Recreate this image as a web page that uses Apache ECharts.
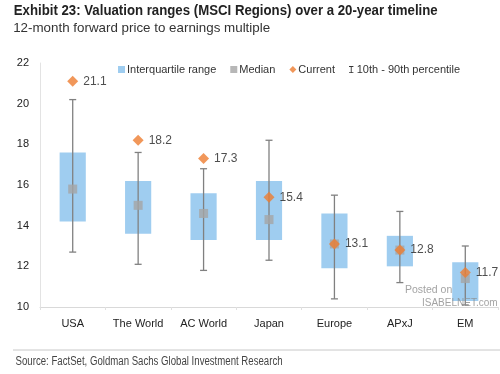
<!DOCTYPE html>
<html><head><meta charset="utf-8">
<script src="https://cdn.jsdelivr.net/npm/echarts@6/dist/echarts.min.js"></script>
<style>html,body{margin:0;padding:0;background:#fff}#c{width:500px;height:374px}</style>
</head><body><div id="c"></div>
<script>
var categories = ['USA','The World','AC World','Japan','Europe','APxJ','EM'];
var p10 =     [12.7, 12.1, 11.8, 12.3, 10.4, 11.2, 10.1];
var p90 =     [20.2, 17.6, 16.8, 18.2, 15.5, 14.7, 13.0];
var q1 =      [14.2, 13.6, 13.3, 13.3, 11.9, 12.0, 10.3];
var q3 =      [17.6, 16.2, 15.6, 16.2, 14.6, 13.5, 12.2];
var median =  [15.8, 15.0, 14.6, 14.3, 13.1, 12.8, 11.4];
var current = [21.1, 18.2, 17.3, 15.4, 13.1, 12.8, 11.7];
var yTicks = [10, 12, 14, 16, 18, 20, 22];

var chart = echarts.init(document.getElementById('c'));
var font = '"Liberation Sans", Arial, sans-serif';

var ctx = document.createElement('canvas').getContext('2d');
function fitted(text, f, x, y, width, color) {
  ctx.font = f;
  var w = ctx.measureText(text).width;
  return {type: 'text', x: x, y: y, scaleX: width / w, originX: x, originY: y,
          style: {text: text, font: f, fill: color, textVerticalAlign: 'top'}};
}

chart.setOption({
  animation: false,
  textStyle: {fontFamily: font},
  graphic: [
    fitted('Exhibit 23: Valuation ranges (MSCI Regions) over a 20-year timeline', 'bold 14px ' + font, 13, 4, 424, '#222'),
    fitted('12-month forward price to earnings multiple', '13.5px ' + font, 13, 21, 257, '#333'),
    fitted('Source: FactSet, Goldman Sachs Global Investment Research', '12px ' + font, 13, 356, 267, '#444'),
    {type: 'line', shape: {x1: 13, y1: 350, x2: 500, y2: 350}, style: {stroke: '#c8c8c8', lineWidth: 1}},
    {type: 'text', x: 405, y: 285, z: 100, style: {text: 'Posted on', fill: 'rgba(140,140,140,0.8)', font: '10.5px ' + font}},
    {type: 'text', x: 422, y: 298, z: 100, style: {text: 'ISABELNET.com', fill: 'rgba(140,140,140,0.8)', font: '10px ' + font}}
  ],
  legend: {
    top: 59, left: 113, itemGap: 14, itemWidth: 7, itemHeight: 7,
    textStyle: {fontSize: 11, color: '#333', padding: [0, 0, 0, -3]},
    data: [
      {name: 'Interquartile range', icon: 'rect'},
      {name: 'Median', icon: 'rect'},
      {name: 'Current', icon: 'diamond'},
      {name: '10th - 90th percentile', icon: 'path://M0,0 H10 V2 H6 V14 H10 V16 H0 V14 H4 V2 H0 Z'}
    ]
  },
  grid: {left: 40, right: 2, top: 63, bottom: 67},
  xAxis: {
    type: 'category', data: categories,
    axisLine: {lineStyle: {color: '#d9d9d9'}},
    axisTick: {show: true, length: 3, lineStyle: {color: '#e0e0e0'}},
    axisLabel: {color: '#222', fontSize: 11, margin: 11, interval: 0}
  },
  yAxis: {
    type: 'value', min: 10, max: 22, interval: 2,
    axisLine: {show: true, lineStyle: {color: '#e3e3e3'}},
    axisTick: {show: false}, splitLine: {show: false},
    axisLabel: {color: '#222', fontSize: 11, margin: 11,
      formatter: function (v) { return yTicks.indexOf(v) >= 0 ? String(v) : ''; }}
  },
  series: [
    {
      name: 'Interquartile range', type: 'custom', itemStyle: {color: '#9fcdf0'},
      data: categories.map(function (c, i) { return [i, q1[i], q3[i]]; }),
      encode: {x: 0, y: [1, 2]},
      renderItem: function (params, api) {
        var lo = api.coord([api.value(0), api.value(1)]);
        var hi = api.coord([api.value(0), api.value(2)]);
        var w = api.size([1, 0])[0] * 0.4;
        return {type: 'rect', shape: {x: lo[0] - w / 2, y: hi[1], width: w, height: lo[1] - hi[1]},
                style: {fill: '#9fcdf0'}};
      }
    },
    {
      name: '10th - 90th percentile', type: 'custom', itemStyle: {color: '#333'},
      data: categories.map(function (c, i) { return [i, p10[i], p90[i]]; }),
      encode: {x: 0, y: [1, 2]}, z: 3,
      renderItem: function (params, api) {
        var lo = api.coord([api.value(0), api.value(1)]);
        var hi = api.coord([api.value(0), api.value(2)]);
        var cap = 3.5;
        var st = {stroke: '#808080', lineWidth: 1.3};
        return {type: 'group', children: [
          {type: 'line', shape: {x1: lo[0], y1: lo[1], x2: hi[0], y2: hi[1]}, style: st},
          {type: 'line', shape: {x1: lo[0] - cap, y1: lo[1], x2: lo[0] + cap, y2: lo[1]}, style: st},
          {type: 'line', shape: {x1: hi[0] - cap, y1: hi[1], x2: hi[0] + cap, y2: hi[1]}, style: st}
        ]};
      }
    },
    {
      name: 'Median', type: 'scatter', symbol: 'rect', symbolSize: 9, z: 4,
      itemStyle: {color: '#a5a5a5'},
      data: median.map(function (v, i) { return [i, v]; })
    },
    {
      name: 'Current', type: 'scatter', symbol: 'diamond', symbolSize: 11, z: 5,
      itemStyle: {color: '#ed7d31'},
      label: {show: true, position: 'right', distance: 5, color: '#222', fontSize: 12,
        formatter: function (p) { return p.value[1].toFixed(1); }},
      data: current.map(function (v, i) { return [i, v]; })
    }
  ]
});
</script></body></html>
